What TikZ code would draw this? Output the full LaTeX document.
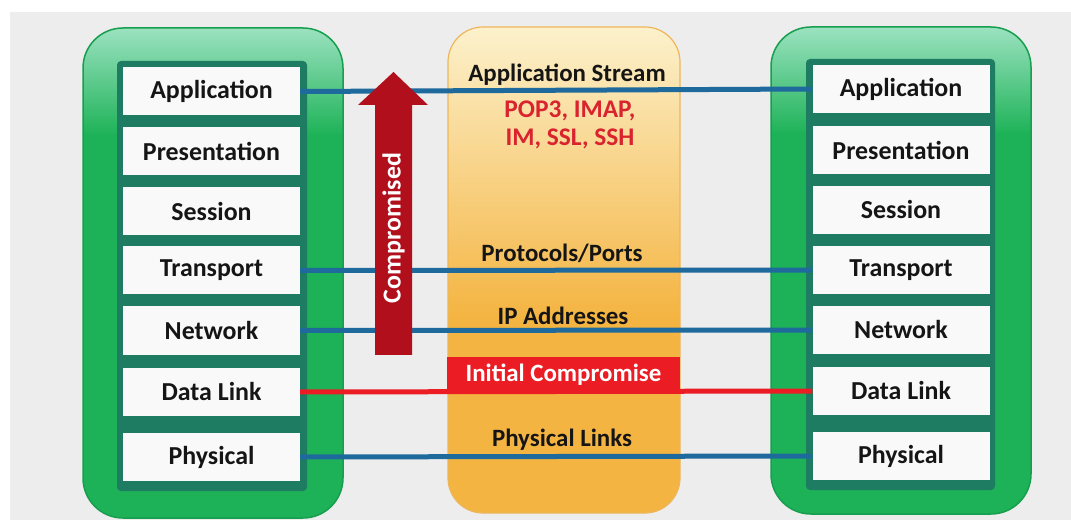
\documentclass[tikz,border=0pt]{standalone}
\usepackage{fontspec}
\setmainfont{Carlito}
\definecolor{bggray}{HTML}{EDEDED}
\definecolor{gmid}{HTML}{1DB257}
\definecolor{glight}{HTML}{9BE2C0}
\definecolor{gedge}{HTML}{179E4E}
\definecolor{tealpanel}{HTML}{1E7C62}
\definecolor{lineblue}{HTML}{1F6A9C}
\definecolor{redbox}{HTML}{EC1C24}
\definecolor{arrowred}{HTML}{B10F1C}
\definecolor{txtred}{HTML}{D9232E}
\definecolor{otop}{HTML}{FCF1CC}
\definecolor{obot}{HTML}{F4B441}
\definecolor{oedge}{HTML}{EDB65A}
\definecolor{boxwhite}{HTML}{F8F9F8}
\definecolor{txtblack}{HTML}{151515}
\pgfdeclareverticalshading{greenshade}{100bp}{color(0bp)=(gmid); color(25bp)=(gmid); color(64bp)=(gmid); color(75bp)=(glight); color(100bp)=(glight)}
\pgfdeclareverticalshading{orangeshade}{100bp}{color(0bp)=(obot); color(25bp)=(obot); color(45bp)=(obot); color(75bp)=(otop); color(100bp)=(otop)}
\tikzset{
  layerbox/.style={fill=boxwhite, minimum width=177bp, minimum height=48bp, inner sep=0pt,
    font=\fontsize{26}{30}\selectfont\bfseries, text=txtblack},
  midlabel/.style={font=\fontsize{25}{29}\selectfont\bfseries, text=txtblack, inner sep=0pt},
  redlabel/.style={font=\fontsize{25.5}{28}\selectfont\bfseries, text=txtred, inner sep=0pt, align=center},
  outerbox/.style={shading=greenshade, draw=gedge, line width=1.5bp, rounded corners=40bp},
  panel/.style={fill=tealpanel, rounded corners=4bp},
  link/.style={draw=lineblue, line width=5bp},
  redlink/.style={draw=redbox, line width=5bp},
}
\begin{document}
\begin{tikzpicture}[x=1bp,y=-1bp]
\useasboundingbox (0,0) rectangle (1071,520);
\fill[white] (0,0) rectangle (1071,520);
\fill[bggray] (10,12) rectangle (1071,520);

% outer green boxes
\path[outerbox] (83,28) rectangle (343,518);
\path[outerbox] (771,27) rectangle (1031,514);
% inner panels
\path[panel] (117,61) rectangle (307,491);
\path[panel] (806,59) rectangle (995,490);
% middle orange column
\path[shading=orangeshade, draw=oedge, line width=1.2bp, rounded corners=35bp] (448,27) rectangle (680,513);

% left stack
\node[layerbox] (L1) at (211.5,91.5) {Application};
\node[layerbox] (L2) at (211.5,151.5) {Presentation};
\node[layerbox] (L3) at (211.5,211.5) {Session};
\node[layerbox] (L4) at (211.5,270.5) {Transport};
\node[layerbox] (L5) at (211.5,330.5) {Network};
\node[layerbox] (L6) at (211.5,392) {Data Link};
\node[layerbox] (L7) at (211.5,457) {Physical};
% right stack
\node[layerbox] (R1) at (901,89) {Application};
\node[layerbox] (R2) at (901,150) {Presentation};
\node[layerbox] (R3) at (901,210) {Session};
\node[layerbox] (R4) at (901,270) {Transport};
\node[layerbox] (R5) at (901,330) {Network};
\node[layerbox] (R6) at (901,391) {Data Link};
\node[layerbox] (R7) at (901,456) {Physical};

% links
\draw[link] (L1.east) -- (R1.west);
\draw[link] (L4.east) -- (R4.west);
\draw[link] (L5.east) -- (R5.west);
\draw[redlink] (L6.east) -- (R6.west);
\draw[link] (L7.east) -- (R7.west);

% middle labels
\node[midlabel] (appstream) at (567,75) {Application Stream};
\node[redlabel] (protos) at (570,125) {POP3, IMAP,\\IM, SSL, SSH};
\node[midlabel] (ports) at (562,253) {Protocols/Ports};
\node[midlabel] (ipaddr) at (563,316) {IP Addresses};
\node[fill=redbox, minimum width=233bp, minimum height=36bp, inner sep=0pt,
  font=\fontsize{25}{29}\selectfont\bfseries, text=white] (ic) at (563.5,375) {Initial Compromise};
\node[midlabel] (physlinks) at (562,440) {Physical Links};

% compromised arrow
\fill[arrowred] (375,355) -- (375,105) -- (358,105) -- (393.5,72) -- (428,105) -- (412,105) -- (412,355) -- cycle;
\node[rotate=90, font=\fontsize{26}{30}\selectfont\bfseries, text=white, inner sep=0pt] (comp) at (393.5,228) {Compromised};
\end{tikzpicture}
\end{document}
